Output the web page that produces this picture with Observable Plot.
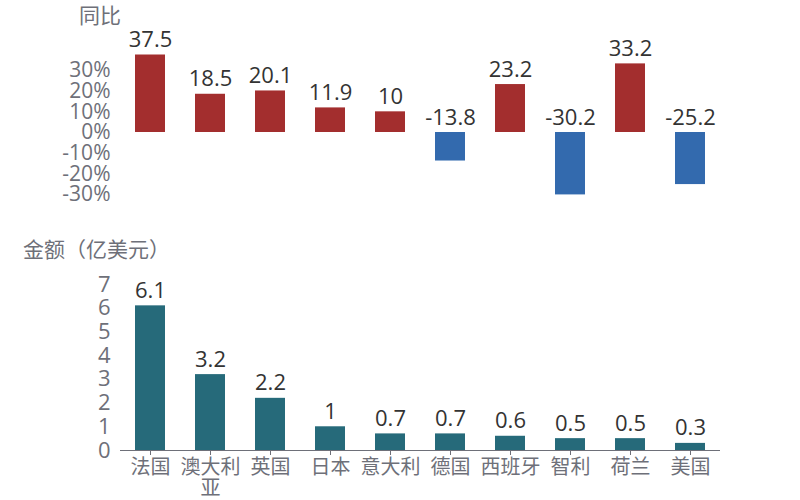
<!DOCTYPE html>
<html>
<head>
<meta charset="utf-8">
<script src="https://cdn.jsdelivr.net/npm/d3@7"></script>
<script src="https://cdn.jsdelivr.net/npm/@observablehq/plot@0.6"></script>
<style>
  html, body { margin: 0; padding: 0; background: #fff; }
  body { width: 800px; height: 500px; position: relative; overflow: hidden;
         font-family: "Open Sans", "Noto Sans CJK SC", sans-serif; }
  .title { position: absolute; color: #6e7079; font-size: 21px; line-height: 1.2; white-space: nowrap;
           font-family: "Noto Sans CJK SC", sans-serif; }
  #top { position: absolute; left: 0; top: 0; }
  #bottom { position: absolute; left: 0; top: 220px; }
</style>
</head>
<body>
<div class="title" style="left:79px; top:2px;">同比</div>
<div class="title" style="left:23px; top:236px;">金额（亿美元）</div>
<div id="top"></div>
<div id="bottom"></div>
<script>
const countries = ["法国", "澳大利亚", "英国", "日本", "意大利", "德国", "西班牙", "智利", "荷兰", "美国"];
const yoy = [37.5, 18.5, 20.1, 11.9, 10, -13.8, 23.2, -30.2, 33.2, -25.2];
const amount = [6.1, 3.2, 2.2, 1, 0.7, 0.7, 0.6, 0.5, 0.5, 0.3];
const yoyTicks = [-30, -20, -10, 0, 10, 20, 30];
const amountTicks = [0, 1, 2, 3, 4, 5, 6, 7];
const xLabels = {"澳大利亚": "澳大利\n亚"};

const red = "#a32e2e", blue = "#336aae", teal = "#266a7a";
const font = "\"Open Sans\", \"Noto Sans CJK SC\", sans-serif";
const cjk = "\"Noto Sans CJK SC\", sans-serif";

const topData = countries.map((c, i) => ({country: c, v: yoy[i]}));
const botData = countries.map((c, i) => ({country: c, v: amount[i]}));

const topPlot = Plot.plot({
  width: 800, height: 220,
  marginLeft: 120, marginRight: 80, marginTop: 0, marginBottom: 0,
  style: {fontFamily: font, background: "transparent", overflow: "visible"},
  x: {domain: countries, paddingInner: 0.5, paddingOuter: 0.25, axis: null},
  y: {domain: [-30, 30], range: [194, 70], axis: null},
  marks: [
    Plot.barY(topData, {x: "country", y: "v", fill: d => d.v >= 0 ? red : blue}),
    Plot.axisY({ticks: yoyTicks, tickSize: 0, tickPadding: 10, fontSize: 21, label: null,
      tickFormat: d => d + "%", color: "#6e7079", anchor: "left"}),
    Plot.text(topData, {x: "country", y: d => Math.max(d.v, 0), text: d => String(d.v),
      lineAnchor: "bottom", dy: -8, fontSize: 22, fill: "#333"})
  ]
});
document.getElementById("top").appendChild(topPlot);

const botPlot = Plot.plot({
  width: 800, height: 280,
  marginLeft: 120, marginRight: 80, marginTop: 0, marginBottom: 50,
  style: {fontFamily: font, background: "transparent", overflow: "visible"},
  x: {domain: countries, paddingInner: 0.5, paddingOuter: 0.25, axis: null},
  y: {domain: [0, 7], range: [230, 64], axis: null},
  marks: [
    Plot.barY(botData, {x: "country", y: "v", fill: teal}),
    Plot.ruleY([0], {stroke: "#6e7079", strokeWidth: 1}),
    Plot.axisY({ticks: amountTicks, tickSize: 0, tickPadding: 10, fontSize: 22, label: null,
      tickFormat: d => String(d), color: "#6e7079", anchor: "left"}),
    Plot.axisX({anchor: "bottom", tickSize: 5, tickPadding: 3, fontSize: 20, label: null,
      fontFamily: cjk, color: "#6e7079", tickFormat: d => xLabels[d] || d, lineHeight: 1.08}),
    Plot.text(botData, {x: "country", y: "v", text: d => String(d.v),
      lineAnchor: "bottom", dy: -8, fontSize: 22, fill: "#333"})
  ]
});
document.getElementById("bottom").appendChild(botPlot);
</script>
</body>
</html>
